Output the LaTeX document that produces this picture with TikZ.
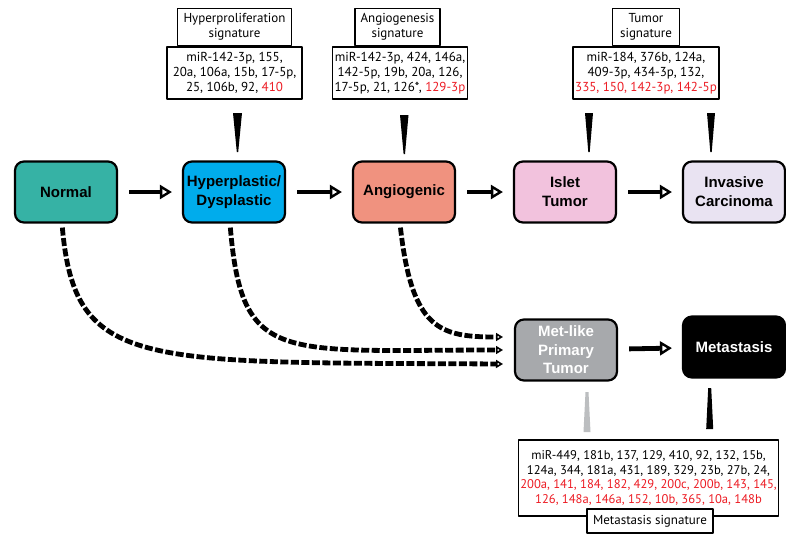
\documentclass[tikz,border=0pt]{standalone}
\usepackage{fontspec}
\setmainfont{Liberation Sans}
\newfontfamily\listfont{PT Sans}
\usetikzlibrary{arrows.meta}

\definecolor{normalcol}{RGB}{54,178,165}
\definecolor{hypercol}{RGB}{0,172,236}
\definecolor{angiocol}{RGB}{240,146,127}
\definecolor{isletcol}{RGB}{242,194,221}
\definecolor{invcol}{RGB}{233,227,242}
\definecolor{metlikecol}{RGB}{167,169,172}
\definecolor{wedgegray}{RGB}{188,190,192}
\definecolor{sigred}{RGB}{237,28,36}
\newcommand{\hl}[1]{\textcolor{sigred}{#1}}

\tikzset{
  stage/.style={draw=black, line width=2.2pt, rounded corners=9pt, minimum width=102pt,
    minimum height=61pt, inner sep=0pt, align=center,
    font=\bfseries\fontsize{15}{19}\selectfont},
  siglist/.style={draw=black, fill=white, line width=1.5pt, minimum height=52pt,
    inner xsep=2pt, inner ysep=2pt, align=center,
    font=\listfont\fontsize{13}{14.7}\selectfont},
  sigtitle/.style={draw=black, fill=white, line width=1.3pt, minimum height=37pt,
    inner xsep=3pt, inner ysep=2pt, align=center,
    font=\listfont\fontsize{13}{14.7}\selectfont},
  flow/.style={line width=4.8pt, shorten <=11pt, shorten >=10pt,
    -{Triangle[open, length=12pt, width=14pt, line width=2.4pt]}},
  route/.style={line width=4.8pt, dash pattern=on 8pt off 2.5pt, shorten <=4pt,
    -{Triangle[open, length=7pt, width=8pt, line width=1.6pt]}},
  wedge/.style={fill=black},
}

\begin{document}
\begin{tikzpicture}[x=1pt,y=-1pt,line join=round]
\useasboundingbox (0,0) rectangle (786,533);

% stages of progression
\node[stage, fill=normalcol] (normal) at (66,192) {Normal};
\node[stage, fill=hypercol] (hyper) at (234,192) {Hyperplastic/\\Dysplastic};
\node[stage, fill=angiocol] (angio) at (404,192) {Angiogenic};
\node[stage, fill=isletcol] (islet) at (565,192) {Islet\\Tumor};
\node[stage, fill=invcol] (invasive) at (734,192) {Invasive\\Carcinoma};
\node[stage, fill=metlikecol, text=white, font=\bfseries\fontsize{15}{18.5}\selectfont] (metlike) at (566,350) {Met-like\\Primary\\Tumor};
\node[stage, fill=black, text=white] (metastasis) at (734,347) {Metastasis};

\draw[flow] (normal) -- (hyper);
\draw[flow] (hyper) -- (angio);
\draw[flow] (angio) -- (islet);
\draw[flow] (islet) -- (invasive);
\draw[flow] (metlike) -- (metastasis);

% routes to met-like tumor
\coordinate (in1) at (503,337);
\coordinate (in2) at (503,350);
\coordinate (in3) at (503,364);
\draw[route] ([xshift=-4pt]normal.south) .. controls (75,370) and (140,362) .. (in3);
\draw[route] ([xshift=-4pt]hyper.south) .. controls (242,365) and (280,350) .. (in2);
\draw[route] ([xshift=-4pt]angio.south) .. controls (412,330) and (440,337) .. (in1);

% signatures
\node[siglist, minimum width=135pt] (hyperlist) at (234.5,73) {miR-142-3p, 155,\\20a, 106a, 15b, 17-5p,\\25, 106b, 92, \hl{410}};
\node[sigtitle, minimum width=114pt, anchor=south] (hypertitle) at (hyperlist.north) {Hyperproliferation\\signature};
\node[siglist, minimum width=134pt] (angiolist) at (400,73) {miR-142-3p, 424, 146a,\\142-5p, 19b, 20a, 126,\\17-5p, 21, 126*, \hl{129-3p}};
\node[sigtitle, minimum width=85pt, anchor=south] (angiotitle) at ([xshift=-2.5pt]angiolist.north) {Angiogenesis\\signature};
\node[siglist, minimum width=138pt] (tumorlist) at (646,73) {miR-184, 376b, 124a,\\409-3p, 434-3p, 132,\\\hl{335, 150, 142-3p, 142-5p}};
\node[sigtitle, minimum width=67pt, anchor=south] (tumortitle) at (tumorlist.north) {Tumor\\signature};
\node[siglist, minimum width=253pt, minimum height=76pt, font=\listfont\fontsize{12.6}{14.7}\selectfont] (metlist) at (648.5,478) {miR-449, 181b, 137, 129, 410, 92, 132, 15b,\\124a, 344, 181a, 431, 189, 329, 23b, 27b, 24,\\\hl{200a, 141, 184, 182, 429, 200c, 200b, 143, 145,}\\\hl{126, 148a, 146a, 152, 10b, 365, 10a, 148b}};
\node[sigtitle, minimum width=126pt, minimum height=24pt] (mettitle) at (650,521) {Metastasis signature};

% pointers
\fill[wedge] (233,113) -- (242,113) -- (238.2,152) -- (236.8,152) -- cycle;
\fill[wedge] (400,115) -- (408.5,115) -- (405,154) -- (403.6,154) -- cycle;
\fill[wedge] (585,113) -- (593,113) -- (589.7,152) -- (588.3,152) -- cycle;
\fill[wedge] (707,113) -- (715,113) -- (711.7,152) -- (710.3,152) -- cycle;
\fill[wedgegray] (585.5,392) -- (588.5,392) -- (590.5,432) -- (583.5,432) -- cycle;
\fill[wedge] (708.2,388) -- (711.2,388) -- (713.2,429) -- (706.2,429) -- cycle;
\end{tikzpicture}
\end{document}
